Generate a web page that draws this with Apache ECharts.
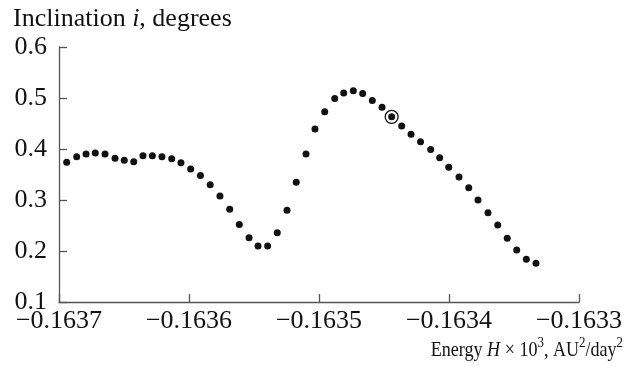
<!DOCTYPE html>
<html>
<head>
<meta charset="utf-8">
<script src="https://cdn.jsdelivr.net/npm/echarts@6/dist/echarts.min.js"></script>
<style>
html,body{margin:0;padding:0;background:#fff;}
#chart{width:635px;height:376px;}
</style>
</head>
<body>
<div id="chart"></div>
<script>
// Energy H x 10^3 (AU^2/day^2)
const energy = [
  -0.1636941, -0.1636864, -0.1636792, -0.1636721, -0.1636646,
  -0.1636569, -0.1636498, -0.1636425, -0.1636354, -0.1636282,
  -0.1636208, -0.1636133, -0.1636062, -0.1635987, -0.1635912,
  -0.1635837, -0.1635762, -0.1635687, -0.1635613, -0.1635538,
  -0.1635469, -0.1635395, -0.1635321, -0.1635246, -0.1635175,
  -0.1635100, -0.1635031, -0.1634956, -0.1634879, -0.1634810,
  -0.1634736, -0.1634664, -0.1634590, -0.1634515, -0.1634441,
  -0.1634364, -0.1634292, -0.1634219, -0.1634141, -0.1634072,
  -0.1634002, -0.1633923, -0.1633848, -0.1633777, -0.1633700,
  -0.1633625, -0.1633552, -0.1633479, -0.1633405, -0.1633331
];
// Inclination i, degrees
const inclination = [
  0.374, 0.385, 0.390, 0.392, 0.390,
  0.382, 0.378, 0.375, 0.387, 0.387,
  0.385, 0.381, 0.373, 0.361, 0.348,
  0.330, 0.308, 0.282, 0.252, 0.226,
  0.210, 0.210, 0.236, 0.280, 0.335,
  0.390, 0.439, 0.473, 0.499, 0.510,
  0.514, 0.509, 0.495, 0.482, 0.463,
  0.445, 0.429, 0.414, 0.399, 0.383,
  0.364, 0.345, 0.324, 0.300, 0.275,
  0.251, 0.225, 0.202, 0.184, 0.176
];
const highlightIndex = [34];

const xTicks = {min: -0.1637, max: -0.1633, step: 0.0001};
const yTicks = {min: 0.1, max: 0.6, step: 0.1};

const points = energy.map((x, k) => [x, inclination[k]]);
const marked = highlightIndex.map(k => [energy[k], inclination[k]]);

const FONT = 'Liberation Serif';
const chart = echarts.init(document.getElementById('chart'), null, {renderer: 'canvas'});
const axisColor = '#555';
const txt = '#111';

chart.setOption({
  animation: false,
  backgroundColor: '#fff',
  title: [
    {
      text: '{n|Inclination }{i|i}{n|, degrees}',
      left: 8, top: 0,
      textStyle: {
        fontWeight: 'normal',
        rich: {
          n: {fontFamily: FONT, fontSize: 26, fontWeight: 'normal', color: txt, lineHeight: 28},
          i: {fontFamily: FONT, fontSize: 26, fontWeight: 'normal', fontStyle: 'italic', color: txt, lineHeight: 28}
        }
      }
    }
  ],
  graphic: [
    {
      type: 'text',
      x: 623, y: 336,
      scaleX: 0.86, scaleY: 1,
      silent: true,
      style: {
        text: '{n|Energy }{i|H}{n| × 10}{s|3}{n|, AU}{s|2}{n|/day}{s|2}',
        align: 'right', verticalAlign: 'top',
        rich: {
          n: {fontFamily: FONT, fontSize: 21, fill: txt, lineHeight: 28},
          i: {fontFamily: FONT, fontSize: 21, fontStyle: 'italic', fill: txt, lineHeight: 28},
          s: {fontFamily: FONT, fontSize: 15, fill: txt, lineHeight: 17, verticalAlign: 'top'}
        }
      }
    }
  ],
  grid: {left: 59, top: 47, width: 520, height: 255, containLabel: false},
  xAxis: {
    type: 'value',
    min: xTicks.min, max: xTicks.max, interval: xTicks.step,
    axisLine: {show: true, lineStyle: {color: axisColor, width: 1.3}},
    axisTick: {show: true, inside: true, length: 8, lineStyle: {color: axisColor, width: 1.3}},
    splitLine: {show: false},
    axisLabel: {
      margin: 6, color: txt, fontFamily: FONT, fontSize: 26,
      formatter: v => v.toFixed(4).replace('-', '\u2212')
    }
  },
  yAxis: {
    type: 'value',
    min: yTicks.min, max: yTicks.max, interval: yTicks.step,
    axisLine: {show: true, lineStyle: {color: axisColor, width: 1.3}},
    axisTick: {show: true, inside: true, length: 8, lineStyle: {color: axisColor, width: 1.3}},
    splitLine: {show: false},
    axisLabel: {
      margin: 12, color: txt, fontFamily: FONT, fontSize: 26,
      formatter: v => v.toFixed(1)
    }
  },
  series: [
    {
      type: 'scatter',
      data: marked,
      symbol: 'circle',
      symbolSize: 13,
      itemStyle: {color: '#fff', borderColor: txt, borderWidth: 1.3, opacity: 1},
      z: 2,
      silent: true
    },
    {
      type: 'scatter',
      data: points,
      symbol: 'circle',
      symbolSize: 7,
      itemStyle: {color: txt, opacity: 1},
      z: 3,
      silent: true
    }
  ]
});
</script>
</body>
</html>
